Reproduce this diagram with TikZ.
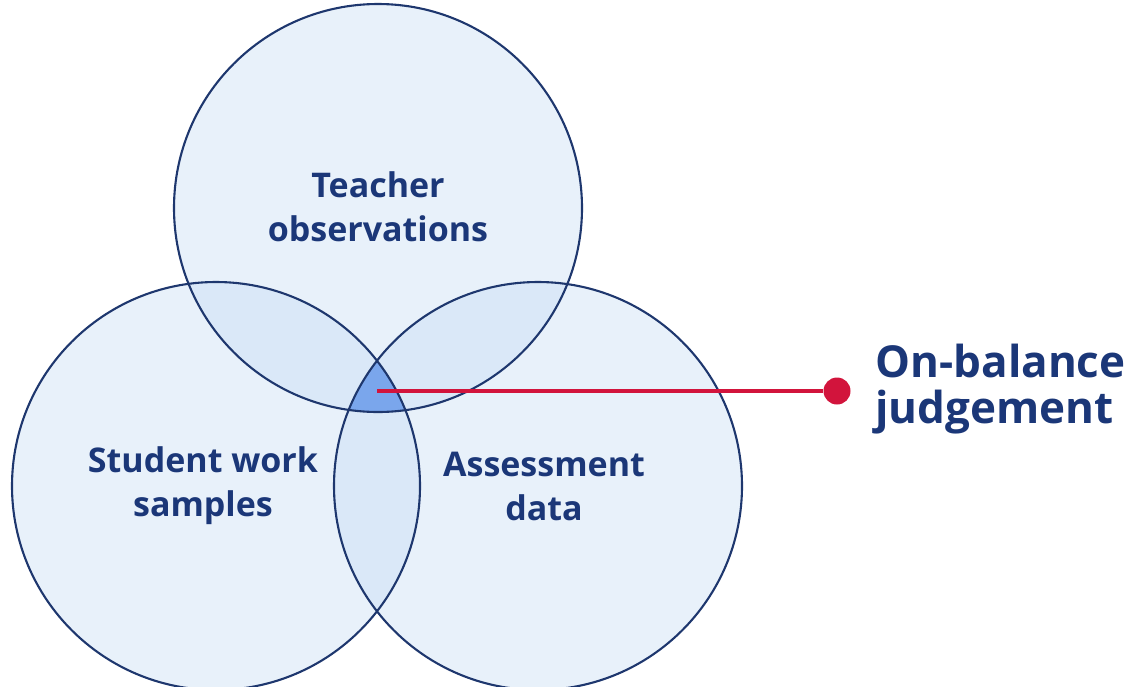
\documentclass[tikz,border=0pt]{standalone}
\usepackage{fontspec}
\setmainfont{Open Sans}
\definecolor{navy}{RGB}{30,55,110}
\definecolor{txt}{RGB}{27,55,120}
\definecolor{cfill}{RGB}{190,215,242}
\definecolor{core}{RGB}{122,166,236}
\definecolor{redc}{RGB}{210,20,60}
\begin{document}
\begin{tikzpicture}[x=1pt,y=-1pt,
  ring/.style={draw=navy,line width=2.1pt},
  lab/.style={text=txt,font=\fontsize{34}{44}\selectfont\bfseries,align=center},
  biglab/.style={text=txt,font=\fontsize{44}{46}\selectfont\bfseries,align=left},
  conn/.style={draw=redc,line width=3.2pt}]
\useasboundingbox (0,0) rectangle (1135,686);
\def\R{204}
\coordinate (cT) at (378,208);
\coordinate (cL) at (216,486);
\coordinate (cR) at (538,486);
% fills
\foreach \c in {cT,cL,cR}{\fill[cfill,fill opacity=0.35] (\c) circle (\R);}
\begin{scope}
  \clip (cT) circle (\R);
  \clip (cL) circle (\R);
  \fill[core] (cR) circle (\R);
\end{scope}
\foreach \c in {cT,cL,cR}{\draw[ring] (\c) circle (\R);}
% labels
\node[lab] (lt) at (378,207) {Teacher\\observations};
\node[lab] (ll) at (203,486) {Student work\\samples};
\node[lab] (lr) at (544,486) {Assessment\\data};
% connector
\coordinate (core) at (377,391);
\node[circle,fill=redc,minimum size=27pt,inner sep=0pt] (dot) at (837,391) {};
\draw[conn] (core) -- (dot);
\node[biglab,anchor=west] (ob) at (872,389) {On-balance\\judgement};
\end{tikzpicture}
\end{document}
